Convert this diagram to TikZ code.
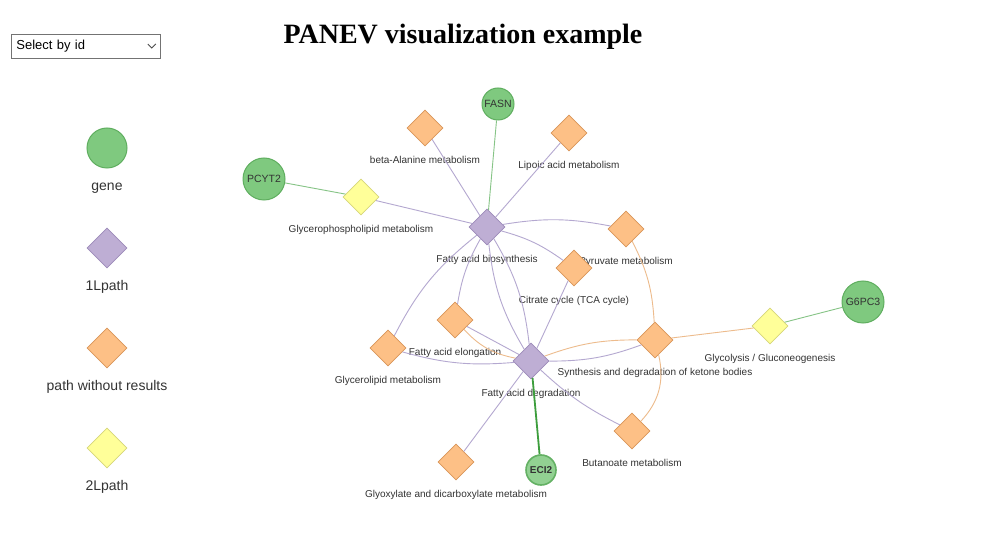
\documentclass[tikz,border=0pt]{standalone}
\usepackage{fontspec}
\setmainfont{Liberation Sans}
\newfontfamily\titlefont{Liberation Serif}
\usepackage{tikz}
\usetikzlibrary{shapes.geometric}
\definecolor{genefill}{HTML}{7FC97F}
\definecolor{geneline}{HTML}{5FAE5F}
\definecolor{onefill}{HTML}{BEAED4}
\definecolor{oneline}{HTML}{9C8AB9}
\definecolor{nofill}{HTML}{FDC086}
\definecolor{noline}{HTML}{D99558}
\definecolor{twofill}{HTML}{FFFF99}
\definecolor{twoline}{HTML}{D6D67A}
\definecolor{purplink}{HTML}{B4A8D0}
\definecolor{orangelink}{HTML}{EDBB8C}
\definecolor{greenlink}{HTML}{86C486}
\definecolor{darklink}{HTML}{3D9E3D}
\definecolor{labtext}{HTML}{333333}
\tikzset{
  genenode/.style={circle,draw=geneline,fill=genefill,line width=1pt,inner sep=0pt,
    font=\fontsize{10.5}{12}\selectfont,text=labtext},
  onepath/.style={diamond,draw=oneline,fill=onefill,line width=0.8pt,inner sep=0pt,minimum size=36pt},
  nopath/.style={onepath,draw=noline,fill=nofill},
  twopath/.style={onepath,draw=twoline,fill=twofill},
  lab/.style={font=\fontsize{10}{12}\selectfont,text=labtext,inner sep=0pt,
    text height=7.5pt,text depth=2pt},
  legtext/.style={font=\fontsize{14}{16}\selectfont,text=labtext,inner sep=0pt,
    text height=10pt,text depth=3pt},
  every label/.style={lab},
  label distance=9pt,
  plink/.style={draw=purplink,line width=0.9pt},
  olink/.style={draw=orangelink,line width=0.9pt},
  glink/.style={draw=greenlink,line width=0.9pt}
}

\begin{document}
\begin{tikzpicture}[x=1pt,y=-1pt]
  \fill[white] (0,0) rectangle (1001,545);
  \useasboundingbox (0,0) rectangle (1001,545);
  % title and selector
  \node[font=\titlefont\fontsize{28}{32}\selectfont\bfseries] (title) at (463,37) {PANEV visualization example};
  \node[draw=black!55,line width=0.8pt,text width=139pt,inner xsep=5pt,inner ysep=0pt,
    minimum height=24pt,align=left,anchor=west,font=\fontsize{13}{15}\selectfont] (select) at (11,46) {Select by id};
  \draw[black!70,line width=0.8pt] ([xshift=-13pt,yshift=2pt]select.east) -- ++(4,4) -- ++(4,-4);
  % legend
  \node[genenode,minimum size=40pt] (leggene) at (107,148) {};
  \node[legtext,below=12pt] at (leggene.south) (leggenetext) {gene};
  \node[onepath,minimum size=40pt] (legone) at (107,248) {};
  \node[legtext,below=12pt] at (legone.south) (legonetext) {1Lpath};
  \node[nopath,minimum size=40pt] (legno) at (107,348) {};
  \node[legtext,below=12pt] at (legno.south) (legnotext) {path without results};
  \node[twopath,minimum size=40pt] (legtwo) at (107,448) {};
  \node[legtext,below=12pt] at (legtwo.south) (legtwotext) {2Lpath};
  % network
  \node[genenode,minimum size=32pt] (fasn) at (498,104) {FASN};
  \node[nopath,label={below:beta-Alanine metabolism}] (beta) at (425,128) {};
  \node[nopath,label={below:Lipoic acid metabolism}] (lipoic) at (569,133) {};
  \node[genenode,minimum size=42pt] (pcyt2) at (264,179) {PCYT2};
  \node[twopath,label={below:Glycerophospholipid metabolism}] (gpl) at (361,197) {};
  \node[onepath,label={below:Fatty acid biosynthesis}] (fab) at (487,227) {};
  \node[nopath,label={below:Pyruvate metabolism}] (pyr) at (626,229) {};
  \node[nopath,label={below:Citrate cycle (TCA cycle)}] (tca) at (574,268) {};
  \node[nopath,label={below:Fatty acid elongation}] (elong) at (455,320) {};
  \node[nopath,label={below:Glycerolipid metabolism}] (glyl) at (388,348) {};
  \node[nopath,label={below:Synthesis and degradation of ketone bodies}] (keto) at (655,340) {};
  \node[twopath,label={below:Glycolysis / Gluconeogenesis}] (glyco) at (770,326) {};
  \node[genenode,minimum size=42pt] (g6pc3) at (863,302) {G6PC3};
  \node[onepath,label={below:Fatty acid degradation}] (fad) at (531,361) {};
  \node[nopath,label={below:Butanoate metabolism}] (buta) at (632,431) {};
  \node[nopath,label={below:Glyoxylate and dicarboxylate metabolism}] (glyox) at (456,462) {};
  \node[genenode,minimum size=30pt,fill=genefill!85!white,draw=darklink!80,line width=1.6pt,
    font=\fontsize{10}{11}\selectfont\bfseries] (eci2) at (541,470) {ECI2};
  % links
  \draw[glink] (fasn) -- (fab);
  \draw[plink] (beta) -- (fab);
  \draw[plink] (lipoic) -- (fab);
  \draw[glink] (pcyt2) -- (gpl);
  \draw[plink] (gpl) -- (fab);
  \draw[plink] (fab) to[bend left=10] (pyr);
  \draw[plink] (fab) to[bend left=10] (tca);
  \draw[plink] (fab) to[bend right=10] (elong);
  \draw[plink] (fab) to[bend right=12] (glyl);
  \draw[plink] (fab) to[bend left=12] (fad);
  \draw[plink] (fab) to[bend right=12] (fad);
  \draw[olink] (pyr) to[bend left=12] (keto);
  \draw[plink] (tca) -- (fad);
  \draw[plink] (elong) -- (fad);
  \draw[olink] (elong) to[bend right=18] (fad);
  \draw[plink] (glyl) to[bend right=10] (fad);
  \draw[olink] (fad) to[bend left=10] (keto);
  \draw[plink] (fad) to[bend right=10] (keto);
  \draw[olink] (keto) -- (glyco);
  \draw[glink] (glyco) -- (g6pc3);
  \draw[olink] (keto) to[bend left=28] (buta);
  \draw[plink] (fad) to[bend right=8] (buta);
  \draw[plink] (fad) -- (glyox);
  \draw[draw=darklink,line width=1.8pt] (fad) -- (eci2);
\end{tikzpicture}
\end{document}
